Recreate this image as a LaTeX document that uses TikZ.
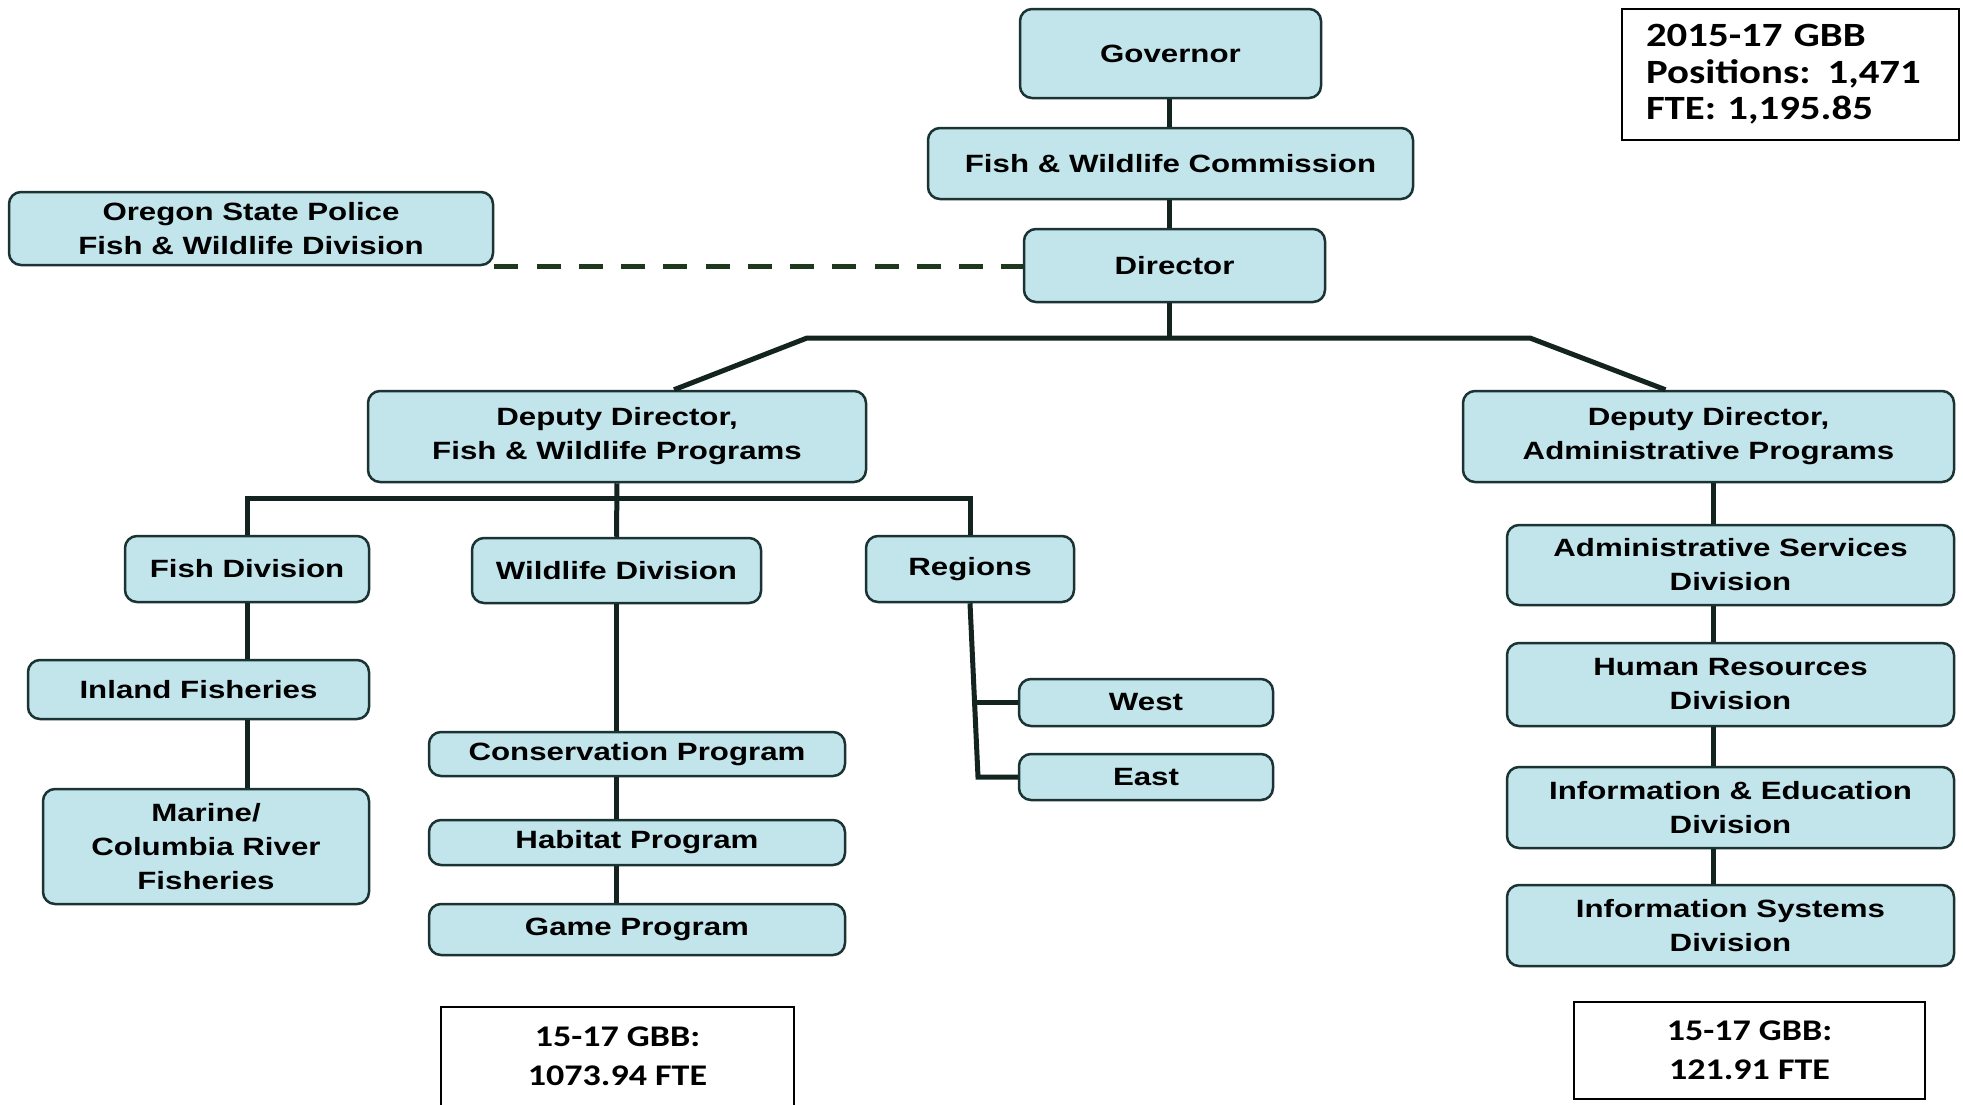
\documentclass[tikz,border=0pt]{standalone}
\usepackage{fontspec}
\setmainfont{Liberation Sans}[FakeStretch=1.25]
\newfontfamily\calib{Carlito}[FakeStretch=1.2]
\usetikzlibrary{calc}
\definecolor{boxfill}{HTML}{C2E5EC}
\definecolor{boxline}{HTML}{1B3333}
\definecolor{conn}{HTML}{132420}
\definecolor{dashc}{HTML}{1E381E}
\begin{document}
\begin{tikzpicture}[x=1pt,y=-1pt,
  box/.style={draw=boxline, line width=2.5pt, fill=boxfill, rounded corners=12pt,
    align=center, inner sep=0pt, font=\fontsize{25}{34}\selectfont\bfseries},
  link/.style={draw=conn, line width=5pt},
  gbb/.style={draw=black, line width=2.5pt, fill=white, inner sep=0pt, align=center,
    font=\calib\fontsize{30}{39}\selectfont\bfseries}]
\useasboundingbox (0,0) rectangle (1963,1104);
\clip (0,0) rectangle (1963,1104);
\fill[white] (0,0) rectangle (1963,1104);

% top chain
\node[box, minimum width=301pt, minimum height=89pt] (gov) at (1170.5,53.5) {Governor};
\node[box, minimum width=485pt, minimum height=71pt] (com) at (1170.5,163.5) {Fish \& Wildlife Commission};
\node[box, minimum width=301pt, minimum height=73pt] (dir) at (1174.5,265.5) {Director};
\node[box, minimum width=484pt, minimum height=73pt] (osp) at (251,228.5) {Oregon State Police\\Fish \& Wildlife Division};

% deputies
\node[box, minimum width=498pt, minimum height=91pt] (ddf) at (617,436.5) {Deputy Director,\\Fish \& Wildlife Programs};
\node[box, minimum width=491pt, minimum height=91pt] (dda) at (1708.5,436.5) {Deputy Director,\\Administrative Programs};

% fish & wildlife side
\node[box, minimum width=244pt, minimum height=66pt] (fishdiv) at (247,569) {Fish Division};
\node[box, minimum width=289pt, minimum height=65pt] (wild) at (616.5,570.5) {Wildlife Division};
\node[box, minimum width=208pt, minimum height=66pt] (reg) at (970,569) {Regions};
\node[box, minimum width=254pt, minimum height=47pt] (west) at (1146,702.5) {West};
\node[box, minimum width=254pt, minimum height=46pt] (east) at (1146,777) {East};
\node[box, minimum width=341pt, minimum height=59pt] (inland) at (198.5,689.5) {Inland Fisheries};
\node[box, minimum width=326pt, minimum height=115pt] (marine) at (206,846.5) {Marine/\\Columbia River\\Fisheries};
\node[box, minimum width=416pt, minimum height=44pt] (cons) at (637,754) {Conservation Program};
\node[box, minimum width=416pt, minimum height=45pt] (hab) at (637,842.5) {Habitat Program};
\node[box, minimum width=416pt, minimum height=51pt] (game) at (637,929.5) {Game Program};

% admin side
\node[box, minimum width=447pt, minimum height=80pt] (asd) at (1730.5,565) {Administrative Services\\Division};
\node[box, minimum width=447pt, minimum height=83pt] (hr) at (1730.5,684.5) {Human Resources\\Division};
\node[box, minimum width=447pt, minimum height=81pt] (ie) at (1730.5,807.5) {Information \& Education\\Division};
\node[box, minimum width=447pt, minimum height=81pt] (is) at (1730.5,925.5) {Information Systems\\Division};

% GBB boxes
\node[gbb, draw=none, fill=none] (gbblt) at (617.5,1056) {15-17 GBB:\\1073.94 FTE};
\draw[draw=black, line width=2.5pt] (441,1125) -- (441,1007) -- (794,1007) -- (794,1125);
\node[gbb, minimum width=351pt, minimum height=97pt] (gbbr) at (1749.5,1050.5) {15-17 GBB:\\121.91 FTE};
\node[gbb, minimum width=337pt, minimum height=131pt, align=left, inner xsep=24pt,
  text width=289pt, font=\calib\fontsize{34}{36.5}\selectfont\bfseries] (tot) at (1790.5,74.5)
  {2015-17 GBB\\Positions: 1,471\\FTE: 1,195.85};

% connectors: top chain
\draw[link] (gov.south -| 1169,0) -- (1169,0 |- com.north);
\draw[link] (com.south -| 1169,0) -- (1169,0 |- dir.north);
\coordinate (busL) at (807,338);
\coordinate (busR) at (1530,338);
\coordinate (dfl) at ($(ddf.north)+(57,0)$);
\coordinate (dar) at ($(dda.north)+(-43,0)$);
\draw[link] (1169,0 |- dir.south) -- (1169,338);
\draw[link] (dfl) -- (busL) -- (busR) -- (dar);

% dashed link to OSP
\draw[draw=dashc, line width=5pt, dash pattern=on 24pt off 18.25pt] (osp.south east) -- (osp.south east -| dir.west);

% fish & wildlife bus
\coordinate (fb) at (617,498);
\draw[link] (fishdiv.north) -- (fishdiv.north |- fb) -- (reg.north |- fb) -- (reg.north);
\draw[link] (ddf.south) -- (wild.north);

% fish division column
\draw[link] (fishdiv.south) -- (fishdiv.south |- inland.north);
\draw[link] (fishdiv.south |- inland.south) -- (fishdiv.south |- marine.north);

% wildlife column
\draw[link] (wild.south) -- (wild.south |- cons.north);
\draw[link] (wild.south |- cons.south) -- (wild.south |- hab.north);
\draw[link] (wild.south |- hab.south) -- (wild.south |- game.north);

% regions
\coordinate (rw) at (974.5,702.5);
\coordinate (re) at (978,777);
\draw[link, line join=miter] (reg.south) -- (re) -- (east.west);
\draw[link] (rw) -- (west.west);

% admin column
\coordinate (ax) at (1713,0);
\draw[link] (ax |- dda.south) -- (ax |- asd.north);
\draw[link] (ax |- asd.south) -- (ax |- hr.north);
\draw[link] (ax |- hr.south) -- (ax |- ie.north);
\draw[link] (ax |- ie.south) -- (ax |- is.north);
\end{tikzpicture}
\end{document}
